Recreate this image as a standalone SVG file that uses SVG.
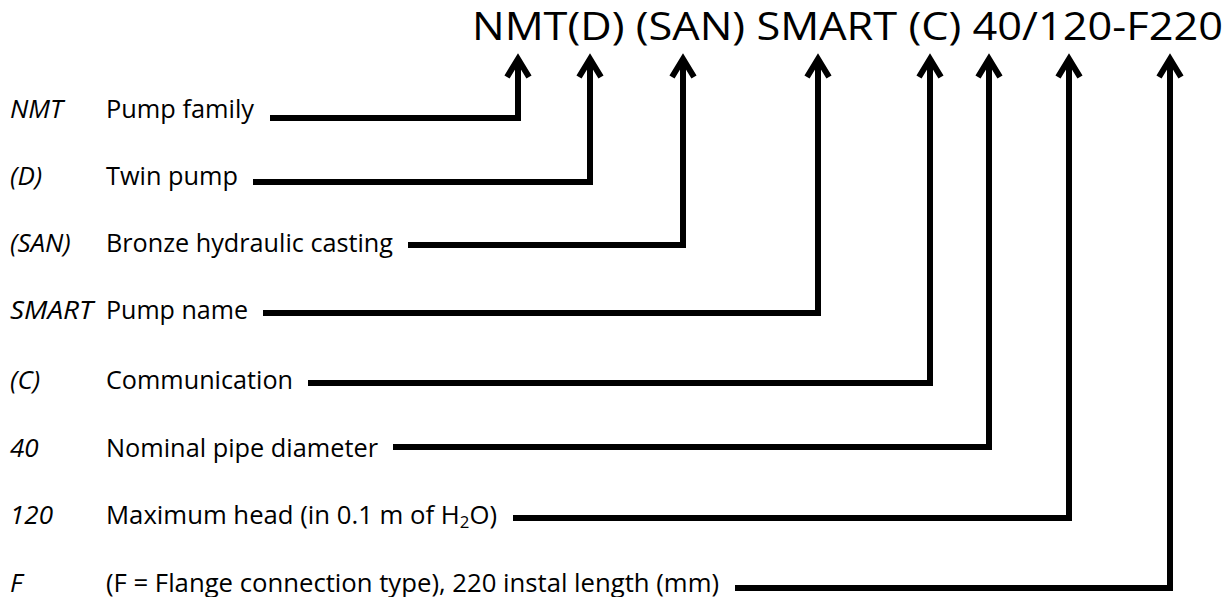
<svg xmlns="http://www.w3.org/2000/svg" width="1227" height="597" viewBox="0 0 1227 597">
<style>
.title{font-family:"Open Sans","Liberation Sans",sans-serif;font-size:39px;fill:#000}
.code{font-family:"Open Sans","Liberation Sans",sans-serif;font-size:26px;font-style:italic;fill:#000}
.desc{font-family:"Open Sans","Liberation Sans",sans-serif;font-size:26px;fill:#000}
.conn{fill:none;stroke:#000;stroke-width:6;stroke-linejoin:miter;marker-end:url(#arr)}
</style>
<defs>
<marker id="arr" markerUnits="userSpaceOnUse" orient="auto" markerWidth="40" markerHeight="40" refX="0" refY="0" viewBox="-25 -20 40 40" overflow="visible">
<path d="M-18,-11 L0,0 L-18,11" fill="none" stroke="#000" stroke-width="6" stroke-linejoin="miter"/>
</marker>
</defs>
<rect width="1227" height="597" fill="#fff"/>
<g id="title"><text class="title" x="472" y="40" textLength="751" lengthAdjust="spacingAndGlyphs">NMT(D) (SAN) SMART (C) 40/120-F220</text></g>
<g id="row-nmt"><text class="code" x="10" y="118">NMT</text><text class="desc" x="106" y="118" textLength="148" lengthAdjust="spacingAndGlyphs">Pump family</text></g>
<g id="row-d"><text class="code" x="10" y="185">(D)</text><text class="desc" x="106" y="185" textLength="132" lengthAdjust="spacingAndGlyphs">Twin pump</text></g>
<g id="row-san"><text class="code" x="10" y="252">(SAN)</text><text class="desc" x="106" y="252" textLength="287" lengthAdjust="spacingAndGlyphs">Bronze hydraulic casting</text></g>
<g id="row-smart"><text class="code" x="10" y="319" textLength="83" lengthAdjust="spacingAndGlyphs">SMART</text><text class="desc" x="106" y="319" textLength="142" lengthAdjust="spacingAndGlyphs">Pump name</text></g>
<g id="row-c"><text class="code" x="10" y="389">(C)</text><text class="desc" x="106" y="389" textLength="187" lengthAdjust="spacingAndGlyphs">Communication</text></g>
<g id="row-40"><text class="code" x="10" y="457">40</text><text class="desc" x="106" y="457" textLength="272" lengthAdjust="spacingAndGlyphs">Nominal pipe diameter</text></g>
<g id="row-120"><text class="code" x="10" y="524">120</text><text class="desc" x="106" y="524" textLength="391" lengthAdjust="spacingAndGlyphs">Maximum head (in 0.1 m of H<tspan font-size="17" baseline-shift="-4">2</tspan>O)</text></g>
<g id="row-f"><text class="code" x="10" y="592">F</text><text class="desc" x="106" y="592" textLength="613" lengthAdjust="spacingAndGlyphs">(F = Flange connection type), 220 instal length (mm)</text></g>
<g id="connectors">
<path class="conn" d="M270,118 H518 V59"/>
<path class="conn" d="M253,182 H590 V59"/>
<path class="conn" d="M408,245 H683 V59"/>
<path class="conn" d="M263,313 H818 V59"/>
<path class="conn" d="M308,383 H930 V59"/>
<path class="conn" d="M393,447 H989 V59"/>
<path class="conn" d="M513,518 H1069 V59"/>
<path class="conn" d="M735,588 H1170 V59"/>
</g>
</svg>
